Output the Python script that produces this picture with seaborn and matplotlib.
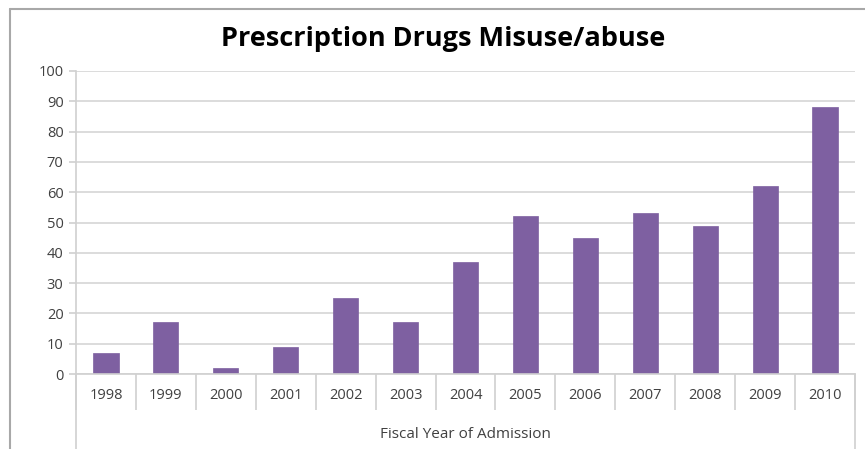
import matplotlib
matplotlib.use("Agg")
import matplotlib.pyplot as plt
from matplotlib.lines import Line2D
import seaborn as sns
import pandas as pd

years = ["1998", "1999", "2000", "2001", "2002", "2003", "2004",
         "2005", "2006", "2007", "2008", "2009", "2010"]
values = [7, 17, 2, 9, 25, 17, 37, 52, 45, 53, 49, 62, 88]
title = "Prescription Drugs Misuse/abuse"
xlabel = "Fiscal Year of Admission"
yticks = list(range(0, 101, 10))

sns.set_theme(style="white")
plt.rcParams["font.family"] = ["Open Sans", "DejaVu Sans"]

df = pd.DataFrame({"year": years, "value": values})

fig = plt.figure(figsize=(8.65, 4.49), dpi=100)
ax = fig.add_axes([76/865, 1-374/449, (855-76)/865, (374-71)/449])

sns.barplot(data=df, x="year", y="value", color="#7E60A1", saturation=1,
            width=0.42, ax=ax, edgecolor="#7E60A1", linewidth=0.5)

ax.set_ylim(0, 100)
ax.set_xlim(-0.5, len(years) - 0.5)
ax.set_yticks(yticks)
ax.set_yticklabels([str(t) for t in yticks], color="#404040", fontsize=10.5)
ax.yaxis.grid(True, color="#D6D6D6", linewidth=1.2)
ax.set_axisbelow(True)
for s in ["top", "right"]:
    ax.spines[s].set_visible(False)
ax.spines["left"].set_color("#D0D0D0")
ax.spines["left"].set_linewidth(1.2)
ax.spines["bottom"].set_color("#D0D0D0")
ax.spines["bottom"].set_linewidth(1.2)
ax.tick_params(axis="y", left=True, length=5, color="#D0D0D0", width=1.2, pad=4)

ax.tick_params(axis="x", which="major", length=0, pad=10, labelsize=10.5, labelcolor="#404040")
ax.set_xticks([i - 0.5 for i in range(len(years) + 1)], minor=True)
ax.tick_params(axis="x", which="minor", bottom=True, length=26, color="#D0D0D0", width=1.2)
ax.set_xlabel("")
ax.set_ylabel("")

# outer category lines extending down
trans = ax.get_xaxis_transform()
for xv in [-0.5, len(years) - 0.5]:
    ax.add_line(Line2D([xv, xv], [0, -75/303], transform=trans, color="#D0D0D0",
                       linewidth=1.2, clip_on=False))

fig.text(465/865, 1-435/449, xlabel, ha="center", va="center", fontsize=11, color="#404040")
fig.text(443/865, 1-39/449, title, ha="center", va="center", fontsize=19.5,
         fontweight="bold", color="#000000")

# chart border
fig.add_artist(Line2D([10/865, 10/865], [0, 1-9/449], transform=fig.transFigure,
                      color="#A8A8A8", linewidth=1.5))
fig.add_artist(Line2D([10/865, 1], [1-9/449, 1-9/449], transform=fig.transFigure,
                      color="#A8A8A8", linewidth=1.5))

fig.savefig("out.png", dpi=100)
